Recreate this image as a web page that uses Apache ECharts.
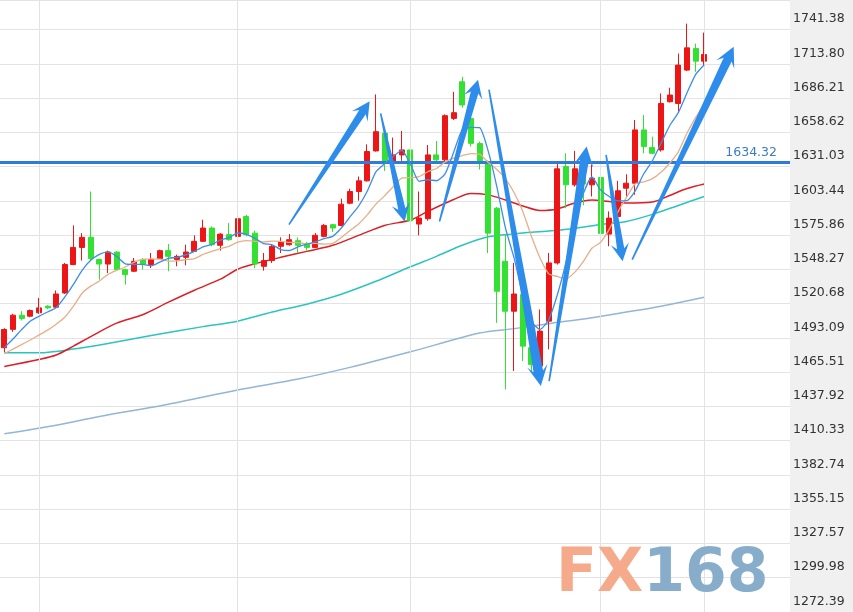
<!DOCTYPE html>
<html>
<head>
<meta charset="utf-8">
<script src="https://cdn.jsdelivr.net/npm/echarts@6/dist/echarts.min.js"></script>
<style>
html,body{margin:0;padding:0;background:#ffffff;}
#chart{width:853px;height:612px;}
</style>
</head>
<body>
<div id="chart"></div>
<script>
// ---- data ----
const yTickLabels = ['1272.39','1299.98','1327.57','1355.15','1382.74','1410.33','1437.92','1465.51','1493.09',
  '1520.68','1548.27','1575.86','1603.44','1631.03','1658.62','1686.21','1713.80','1741.38'];

// trading-day slots (82 candles + empty slots to the right)
const slotCount = 91;
const categories = Array.from({length: slotCount}, (_, i) => 'D' + (i + 1));

const opens = [1485.2,1500.0,1511.4,1510.6,1513.3,1518.7,1517.9,1529.3,1552.2,1566.0,
  1574.1,1556.2,1552.6,1562.3,1548.1,1546.8,1556.2,1552.2,1557.0,1563.4,
  1556.2,1558.0,1562.8,1570.9,1581.6,1567.7,1576.3,1574.9,1590.9,1577.5,
  1550.8,1555.4,1566.9,1568.2,1571.4,1568.7,1566.0,1574.9,1584.3,1583.7,
  1601.6,1611.0,1619.6,1643.7,1657.9,1635.1,1640.5,1644.5,1584.8,1589.1,
  1640.5,1636.5,1669.9,1699.4,1669.9,1649.6,1635.1,1597.6,1554.8,1514.6,
  1528.1,1485.2,1470.5,1506.6,1553.5,1631.1,1616.4,1629.0,1616.4,1622.3,
  1576.7,1590.9,1613.7,1617.7,1660.6,1646.4,1644.5,1683.3,1681.9,1708.8,
  1726.1,1716.0];
const closes = [1499.9,1511.4,1508.8,1515.2,1517.3,1517.3,1528.5,1552.2,1566.0,1574.1,
  1557.0,1552.6,1562.3,1548.1,1544.1,1554.8,1552.6,1556.2,1563.4,1558.8,
  1558.8,1562.3,1570.9,1581.6,1568.2,1576.7,1572.2,1589.1,1576.3,1552.6,
  1555.4,1566.9,1570.3,1572.2,1567.7,1566.0,1575.7,1583.7,1581.6,1600.8,
  1611.0,1619.6,1643.2,1659.2,1633.7,1640.5,1644.5,1587.5,1589.6,1640.5,
  1636.5,1672.1,1674.5,1680.7,1649.8,1635.1,1577.5,1530.7,1514.6,1528.5,
  1486.5,1471.8,1498.6,1553.5,1629.3,1616.4,1629.3,1617.0,1621.7,1577.3,
  1589.6,1611.6,1617.7,1660.6,1647.2,1641.8,1681.9,1688.7,1712.8,1726.7,
  1716.0,1721.3];
const lows = [1481.7,1498.0,1507.2,1509.8,1512.5,1516.5,1517.3,1528.5,1551.6,1555.4,
  1554.8,1540.1,1545.4,1547.3,1536.1,1546.2,1548.1,1549.4,1556.7,1546.8,
  1550.8,1551.6,1562.3,1570.3,1566.9,1563.4,1571.4,1571.4,1574.9,1549.4,
  1547.3,1553.5,1561.5,1567.4,1561.5,1563.4,1565.5,1574.1,1578.3,1582.9,
  1600.8,1603.6,1619.1,1643.2,1627.6,1633.7,1635.7,1562.8,1575.7,1587.5,
  1635.1,1635.1,1668.6,1678.5,1647.2,1628.7,1561.5,1505.3,1451.7,1466.5,
  1474.5,1466.5,1469.1,1483.9,1552.2,1597.6,1615.0,1600.0,1607.0,1573.5,
  1566.9,1585.6,1607.0,1608.4,1641.8,1641.0,1643.2,1682.7,1675.3,1708.0,
  1707.4,1712.8];
const highs = [1500.9,1512.5,1514.6,1516.0,1525.3,1519.5,1531.3,1553.5,1583.7,1577.5,
  1611.0,1557.0,1563.4,1562.8,1548.9,1557.5,1557.5,1561.5,1564.2,1568.7,
  1560.2,1568.2,1575.7,1588.3,1582.9,1577.5,1585.6,1590.1,1592.2,1579.5,
  1561.5,1568.2,1574.1,1576.7,1574.1,1570.3,1577.5,1584.8,1584.8,1605.2,
  1613.2,1623.1,1649.0,1689.2,1659.2,1654.4,1659.8,1649.8,1611.0,1648.5,
  1651.7,1673.1,1691.3,1703.4,1680.1,1651.2,1636.0,1598.5,1576.3,1553.5,
  1529.0,1488.1,1516.0,1561.5,1633.3,1641.8,1643.7,1637.0,1632.5,1624.4,
  1595.0,1619.6,1624.9,1668.6,1672.6,1655.2,1690.0,1694.6,1722.1,1746.2,
  1730.1,1739.0];

// moving averages
const ma5 = [1485.3,1492.2,1499.8,1506.6,1510.5,1514.0,1517.4,1526.1,1536.3,1547.6,
  1555.6,1560.4,1562.4,1558.8,1552.8,1552.4,1552.4,1551.2,1554.2,1557.2,
  1558.0,1559.9,1562.8,1566.5,1568.4,1571.9,1573.9,1577.6,1576.5,1573.4,
  1569.1,1568.1,1564.3,1563.5,1566.5,1568.6,1570.4,1573.1,1574.9,1581.6,
  1590.6,1599.3,1611.2,1626.8,1633.3,1639.2,1644.2,1633.1,1619.2,1620.5,
  1619.7,1625.2,1642.6,1660.9,1662.7,1662.4,1643.5,1614.8,1581.5,1557.3,
  1527.6,1506.4,1500.0,1507.8,1527.9,1553.9,1585.4,1609.1,1622.7,1612.3,
  1607.0,1603.4,1603.6,1611.4,1625.3,1635.8,1649.8,1664.0,1674.5,1690.4,
  1705.2,1713.1];
const ma10 = [1480.5,1484.1,1487.7,1491.4,1495.4,1499.4,1504.2,1509.8,1518.7,1529.1,
  1534.8,1538.9,1544.3,1547.5,1550.2,1554.0,1556.4,1556.8,1556.5,1555.0,
  1555.2,1556.1,1557.0,1560.4,1562.8,1565.0,1566.9,1570.2,1571.5,1570.9,
  1570.5,1571.0,1570.9,1570.0,1569.9,1568.9,1569.2,1568.7,1569.2,1574.0,
  1579.6,1584.9,1592.2,1600.9,1607.5,1614.9,1621.8,1622.2,1623.0,1626.9,
  1629.5,1634.7,1637.9,1640.0,1641.6,1641.1,1634.4,1628.7,1621.2,1610.0,
  1595.0,1575.0,1557.4,1544.7,1542.6,1540.7,1545.9,1554.6,1565.3,1570.1,
  1580.5,1594.4,1606.3,1617.1,1618.8,1621.4,1626.6,1633.8,1642.9,1657.9,
  1670.5,1681.5];
// [slot index, value]
const ma20 = [[0,1470.1],[4,1475.7],[6,1479.3],[8,1486.5],[10,1494.2],[13,1505.0],[16,1511.8],
  [19,1521.9],[22,1531.5],[25,1540.4],[27,1548.4],[29,1552.8],[32,1558.0],[35,1562.8],
  [38,1567.7],[41,1575.7],[44,1583.7],[47,1588.1],[49,1595.0],[52,1604.6],[54,1609.4],
  [56,1608.3],[58,1604.2],[60,1599.4],[62,1595.8],[64,1597.0],[66,1601.8],[68,1604.2],
  [70,1603.0],[72,1601.8],[75,1602.6],[77,1607.8],[79,1613.4],[81,1617.1]];
const ma60 = [[0,1481.2],[4,1481.2],[8,1484.1],[12,1488.6],[17,1495.0],[23,1502.2],[27,1506.6],
  [31,1513.9],[35,1520.3],[39,1528.3],[43,1538.7],[47,1550.4],[50,1558.8],[53,1567.7],
  [56,1574.5],[59,1576.9],[63,1579.3],[66,1581.3],[69,1584.5],[72,1586.9],[75,1592.6],
  [78,1599.8],[81,1607.0]];
const ma120 = [[0,1415.9],[6,1422.8],[11,1429.9],[19,1439.7],[27,1451.2],[34,1460.0],[40,1469.4],
  [47,1481.9],[55,1497.0],[59,1500.6],[63,1504.6],[68,1509.3],[72,1513.9],[76,1518.7],[81,1525.9]];

const levelLine = 1634.32;
const monthLineIdx = [4, 27, 47, 69, 81];
// drawn arrows: [fromSlot, fromValue, toSlot, toValue]
const arrows = [
  [32.94,1584.3,42.28,1683.7],
  [43.55,1673.9,46.32,1586.9],
  [50.36,1586.9,54.82,1701.0],
  [56.09,1693.0,62.09,1454.4],
  [63.05,1458.4,67.39,1647.2],
  [69.64,1640.5,71.55,1554.8],
  [72.66,1556.2,84.41,1727.5]
];

const yMin = 1272.39, yMax = 1765.24, yStep = 27.5876;

// ---- chart ----
const candleData = opens.map((o, i) => [o, closes[i], lows[i], highs[i]]);
const chart = echarts.init(document.getElementById('chart'), null, {renderer: 'canvas'});

function labelFor(v) {
  for (const s of yTickLabels) { if (Math.abs(parseFloat(s) - v) < 0.05) return s; }
  return '';
}

function renderArrow(params, api) {
  const p1 = api.coord([api.value(0), api.value(1)]);
  const p2 = api.coord([api.value(2), api.value(3)]);
  const dx = p2[0] - p1[0], dy = p2[1] - p1[1];
  const len = Math.sqrt(dx * dx + dy * dy);
  const ux = dx / len, uy = dy / len, nx = -uy, ny = ux;
  const tailHalf = 0.8;
  const neckHalf = 3 + len * 0.006;
  const headHalf = neckHalf + 5.5;
  const headLen = 16 + len * 0.015;
  const at = (d, w) => [p1[0] + ux * d + nx * w, p1[1] + uy * d + ny * w];
  const pts = [
    at(0, tailHalf), at(len - headLen * 0.72, neckHalf), at(len - headLen, headHalf), at(len, 0),
    at(len - headLen, -headHalf), at(len - headLen * 0.72, -neckHalf), at(0, -tailHalf)
  ];
  return {type: 'polygon', shape: {points: pts}, style: {fill: '#2e8deb'}};
}

const option = {
  animation: false,
  backgroundColor: '#ffffff',
  grid: [
    {left: -2.64, right: 66.67, top: -2, bottom: 0, containLabel: false},
    {left: 0, right: 63, top: -2, bottom: 0, containLabel: false}
  ],
  xAxis: [
    {type: 'category', gridIndex: 0, data: categories, boundaryGap: true, show: false},
    {type: 'value', gridIndex: 0, min: -0.5, max: slotCount - 0.5, show: false},
    {type: 'value', gridIndex: 1, min: 0, max: 1, show: false}
  ],
  yAxis: [
    {type: 'value', gridIndex: 0, min: yMin, max: yMax, show: false, splitLine: {show: false}},
    {type: 'value', gridIndex: 1, min: yMin, max: yMax, interval: yStep, position: 'right',
      axisLine: {show: false}, axisTick: {show: false},
      splitLine: {show: true, lineStyle: {color: '#e3e3e3', width: 1}},
      axisLabel: {show: true, margin: 3, formatter: labelFor, color: '#333333',
        fontFamily: 'DejaVu Sans', fontSize: 12.5, verticalAlign: 'bottom', padding: [0, 0, 4, 0]}}
  ],
  graphic: [
    {type: 'rect', right: 0, top: 0, z: -10, shape: {width: 63, height: 612}, style: {fill: '#f0f0f0'}},
    {type: 'text', left: 556, top: 545, z: 100, style: {
      text: '{a|FX}{b|168}',
      rich: {
        a: {fill: '#f5aa8c', fontFamily: 'DejaVu Sans', fontWeight: 'bold', fontSize: 60},
        b: {fill: '#87adca', fontFamily: 'DejaVu Sans', fontWeight: 'bold', fontSize: 60}
      }
    }}
  ],
  series: [
    {type: 'line', xAxisIndex: 1, yAxisIndex: 0, data: [], z: 1, silent: true,
      markLine: {silent: true, symbol: ['none', 'none'], label: {show: false}, animation: false,
        lineStyle: {color: '#e3e3e3', width: 1, type: 'solid'},
        data: monthLineIdx.map(i => ({xAxis: i}))}},
    {type: 'line', xAxisIndex: 2, yAxisIndex: 1, data: [], z: 3, silent: true,
      markLine: {silent: true, symbol: ['none', 'none'], animation: false,
        lineStyle: {color: '#2e7cd9', width: 3, type: 'solid'},
        label: {show: true, position: 'insideEndTop', formatter: String(levelLine), color: '#3a7cc8',
          fontFamily: 'DejaVu Sans', fontSize: 12.5, distance: 3, padding: [0, 10, 0, 0]},
        data: [{yAxis: levelLine}]}},
    {type: 'line', xAxisIndex: 1, yAxisIndex: 0, data: ma120, smooth: 0.3, showSymbol: false, z: 2,
      lineStyle: {color: '#93b6d4', width: 1.5}},
    {type: 'line', xAxisIndex: 1, yAxisIndex: 0, data: ma60, smooth: 0.3, showSymbol: false, z: 2,
      lineStyle: {color: '#2cc4c1', width: 1.5}},
    {type: 'line', xAxisIndex: 1, yAxisIndex: 0, data: ma20, smooth: 0.3, showSymbol: false, z: 2,
      lineStyle: {color: '#dd1f26', width: 1.5}},
    {type: 'candlestick', xAxisIndex: 0, yAxisIndex: 0, data: candleData, barWidth: 5.5, z: 4,
      itemStyle: {color: '#ec1616', color0: '#33e133', borderColor: '#ec1616', borderColor0: '#33e133', borderWidth: 1}},
    {type: 'line', xAxisIndex: 0, yAxisIndex: 0, data: ma10, smooth: 0.2, showSymbol: false, z: 5,
      lineStyle: {color: '#e5b089', width: 1.3}},
    {type: 'line', xAxisIndex: 0, yAxisIndex: 0, data: ma5, smooth: 0.2, showSymbol: false, z: 5,
      lineStyle: {color: '#3d8ee6', width: 1.3}},
    {type: 'custom', xAxisIndex: 1, yAxisIndex: 0, data: arrows, renderItem: renderArrow, z: 6,
      encode: {x: [0, 2], y: [1, 3]}, silent: true}
  ]
};
chart.setOption(option);
</script>
</body>
</html>
